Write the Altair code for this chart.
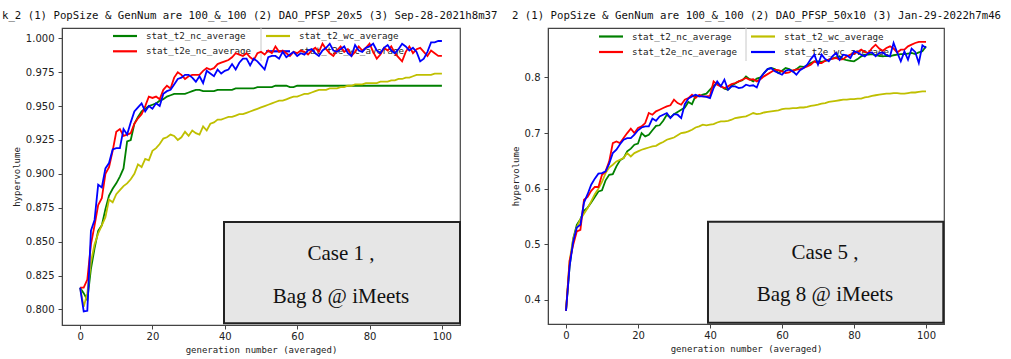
import altair as alt
import pandas as pd

gens = list(range(101))
series_names = ["stat_t2_nc_average", "stat_t2_wc_average", "stat_t2e_nc_average", "stat_t2e_wc_average"]
series_colors = ["#008000", "#bfbf00", "#ff0000", "#0000ff"]

panel_titles = [
    "k_2 (1) PopSize & GenNum are 100_&_100 (2) DAO_PFSP_20x5 (3) Sep-28-2021h8m37",
    "2 (1) PopSize & GenNum are 100_&_100 (2) DAO_PFSP_50x10 (3) Jan-29-2022h7m46",
]
case_labels = ["Case 1 ,", "Case 5 ,"]
bag_label = "Bag 8 @ iMeets"
x_ticks = [0, 20, 40, 60, 80, 100]
y_ticks_1 = [0.800, 0.825, 0.850, 0.875, 0.900, 0.925, 0.950, 0.975, 1.000]
y_ticks_5 = [0.4, 0.5, 0.6, 0.7, 0.8]

# ---------------- Case 1 (DAO_PFSP_20x5) ----------------
c1_t2_nc = [
    0.816, 0.812, 0.807, 0.830, 0.845, 0.858, 0.862, 0.874, 0.884, 0.889,
    0.893, 0.898, 0.904, 0.924, 0.925, 0.937, 0.942, 0.946, 0.948, 0.950,
    0.951, 0.952, 0.954, 0.955, 0.957, 0.958, 0.959, 0.959, 0.959, 0.959,
    0.960, 0.961, 0.962, 0.962, 0.961, 0.961, 0.961, 0.961, 0.962, 0.962,
    0.962, 0.962, 0.962, 0.963, 0.963, 0.963, 0.963, 0.963, 0.963, 0.964,
    0.964, 0.964, 0.964, 0.964, 0.965, 0.965, 0.965, 0.965, 0.964, 0.964,
    0.965, 0.965, 0.965, 0.965, 0.965, 0.965, 0.965, 0.965, 0.965, 0.965,
    0.965, 0.965, 0.965, 0.965, 0.965, 0.965, 0.965, 0.965, 0.965, 0.965,
    0.965, 0.965, 0.965, 0.965, 0.965, 0.965, 0.965, 0.965, 0.965, 0.965,
    0.965, 0.965, 0.965, 0.965, 0.965, 0.965, 0.965, 0.965, 0.965, 0.965, 0.965,
]
c1_t2_wc = [
    0.816, 0.802, 0.812, 0.835, 0.848, 0.856, 0.862, 0.868, 0.881, 0.879,
    0.885, 0.888, 0.891, 0.893, 0.896, 0.900, 0.907, 0.905, 0.911, 0.910,
    0.917, 0.919, 0.922, 0.926, 0.927, 0.929, 0.928, 0.925, 0.927, 0.931,
    0.928, 0.932, 0.930, 0.929, 0.935, 0.932, 0.937, 0.938, 0.940, 0.940,
    0.941, 0.942, 0.942, 0.943, 0.944, 0.944, 0.945, 0.946, 0.947, 0.948,
    0.949, 0.950, 0.951, 0.952, 0.953, 0.954, 0.954, 0.955, 0.956, 0.957,
    0.957, 0.958, 0.959, 0.959, 0.960, 0.961, 0.962, 0.962, 0.962, 0.963,
    0.963, 0.963, 0.964, 0.964, 0.965, 0.965, 0.966, 0.966, 0.966, 0.967,
    0.967, 0.967, 0.967, 0.968, 0.968, 0.968, 0.969, 0.969, 0.970, 0.970,
    0.971, 0.971, 0.972, 0.973, 0.973, 0.973, 0.973, 0.973, 0.974, 0.974, 0.974,
]
c1_t2e_nc = [
    0.816, 0.816, 0.822, 0.848, 0.862, 0.877, 0.882, 0.900, 0.905, 0.917,
    0.931, 0.933, 0.928, 0.929, 0.930, 0.937, 0.941, 0.944, 0.950, 0.957,
    0.956, 0.957, 0.955, 0.962, 0.965, 0.963, 0.971, 0.975, 0.973, 0.970,
    0.972, 0.973, 0.973, 0.973, 0.976, 0.978, 0.977, 0.978, 0.981, 0.982,
    0.983, 0.984, 0.986, 0.989, 0.988, 0.987, 0.989, 0.986, 0.984, 0.989,
    0.990, 0.988, 0.991, 0.989, 0.994, 0.990, 0.991, 0.989, 0.987, 0.990,
    0.989, 0.991, 0.990, 0.988, 0.991, 0.993, 0.990, 0.996, 0.992, 0.989,
    0.987, 0.991, 0.994, 0.990, 0.992, 0.987, 0.990, 0.994, 0.991, 0.993,
    0.996, 0.990, 0.985, 0.988, 0.993, 0.991, 0.994, 0.989, 0.986, 0.983,
    0.990, 0.994, 0.989, 0.992, 0.993, 0.990, 0.987, 0.991, 0.989, 0.987, 0.987,
]
c1_t2e_wc = [
    0.816, 0.7985, 0.799, 0.858, 0.866, 0.892, 0.890, 0.904, 0.908, 0.918,
    0.919, 0.919, 0.933, 0.929, 0.938, 0.946, 0.949, 0.952, 0.946, 0.950,
    0.948, 0.952, 0.950, 0.959, 0.961, 0.962, 0.966, 0.970, 0.971, 0.973,
    0.973, 0.971, 0.968, 0.972, 0.967, 0.976, 0.974, 0.972, 0.977, 0.974,
    0.976, 0.977, 0.981, 0.977, 0.982, 0.985, 0.985, 0.980, 0.985, 0.983,
    0.980, 0.977, 0.986, 0.987, 0.987, 0.985, 0.990, 0.986, 0.988, 0.990,
    0.987, 0.989, 0.988, 0.991, 0.992, 0.989, 0.987, 0.991, 0.993, 0.996,
    0.991, 0.990, 0.992, 0.994, 0.989, 0.987, 0.995, 0.991, 0.990, 0.993,
    0.994, 0.996, 0.991, 0.989, 0.993, 0.995, 0.991, 0.989, 0.992, 0.996,
    0.994, 0.991, 0.993, 0.990, 0.983, 0.985, 0.990, 0.997, 0.997, 0.998, 0.998,
]

# ---------------- Case 5 (DAO_PFSP_50x10) ----------------
c5_t2_nc = [
    0.380, 0.460, 0.510, 0.535, 0.545, 0.560, 0.566, 0.575, 0.585, 0.595,
    0.597, 0.615, 0.625, 0.626, 0.640, 0.651, 0.655, 0.667, 0.672, 0.679,
    0.681, 0.700, 0.694, 0.697, 0.705, 0.713, 0.714, 0.722, 0.733, 0.728,
    0.734, 0.738, 0.742, 0.746, 0.756, 0.752, 0.767, 0.766, 0.769, 0.771,
    0.778, 0.785, 0.789, 0.785, 0.780, 0.778, 0.785, 0.789, 0.793, 0.795,
    0.802, 0.797, 0.793, 0.798, 0.800, 0.808, 0.815, 0.817, 0.815, 0.808,
    0.812, 0.817, 0.815, 0.811, 0.815, 0.820, 0.819, 0.821, 0.826, 0.829,
    0.829, 0.828, 0.830, 0.832, 0.834, 0.836, 0.838, 0.833, 0.831, 0.830,
    0.829, 0.833, 0.838, 0.841, 0.841, 0.842, 0.840, 0.839, 0.838, 0.839,
    0.838, 0.840, 0.841, 0.842, 0.842, 0.843, 0.844, 0.842, 0.845, 0.847, 0.856,
]
c5_t2_wc = [
    0.380, 0.470, 0.510, 0.530, 0.545, 0.555, 0.565, 0.577, 0.590, 0.600,
    0.612, 0.628, 0.638, 0.643, 0.649, 0.652, 0.655, 0.664, 0.658, 0.664,
    0.667, 0.670, 0.672, 0.674, 0.676, 0.677, 0.681, 0.684, 0.688, 0.690,
    0.692, 0.696, 0.700, 0.701, 0.703, 0.706, 0.710, 0.712, 0.715, 0.714,
    0.715, 0.716, 0.719, 0.721, 0.721, 0.722, 0.724, 0.727, 0.728, 0.729,
    0.730, 0.733, 0.736, 0.734, 0.735, 0.737, 0.738, 0.739, 0.740, 0.741,
    0.743, 0.744, 0.744, 0.745, 0.745, 0.746, 0.746, 0.747, 0.749, 0.750,
    0.751, 0.753, 0.754, 0.756, 0.757, 0.758, 0.759, 0.760, 0.760, 0.761,
    0.761, 0.762, 0.762, 0.764, 0.765, 0.767, 0.768, 0.769, 0.770, 0.771,
    0.771, 0.772, 0.772, 0.771, 0.771, 0.772, 0.773, 0.773, 0.774, 0.775, 0.775,
]
c5_t2e_nc = [
    0.380, 0.470, 0.499, 0.523, 0.526, 0.580, 0.585, 0.596, 0.603, 0.603,
    0.625, 0.631, 0.649, 0.682, 0.685, 0.682, 0.691, 0.700, 0.708, 0.700,
    0.709, 0.712, 0.718, 0.736, 0.733, 0.739, 0.742, 0.745, 0.748, 0.750,
    0.760, 0.754, 0.751, 0.760, 0.763, 0.769, 0.763, 0.769, 0.766, 0.766,
    0.767, 0.793, 0.787, 0.784, 0.781, 0.784, 0.788, 0.790, 0.793, 0.796,
    0.799, 0.796, 0.797, 0.793, 0.797, 0.802, 0.806, 0.810, 0.814, 0.813,
    0.811, 0.808, 0.809, 0.813, 0.814, 0.815, 0.817, 0.820, 0.823, 0.829,
    0.826, 0.826, 0.830, 0.832, 0.834, 0.835, 0.832, 0.833, 0.838, 0.841,
    0.843, 0.846, 0.850, 0.846, 0.844, 0.853, 0.859, 0.852, 0.848, 0.853,
    0.856, 0.852, 0.845, 0.850, 0.850, 0.856, 0.859, 0.862, 0.864, 0.864, 0.864,
]
c5_t2e_wc = [
    0.380, 0.460, 0.505, 0.530, 0.535, 0.575, 0.590, 0.607, 0.618, 0.627,
    0.628, 0.631, 0.645, 0.664, 0.670, 0.680, 0.688, 0.691, 0.691, 0.697,
    0.705, 0.710, 0.712, 0.712, 0.726, 0.722, 0.730, 0.733, 0.736, 0.727,
    0.734, 0.733, 0.727, 0.752, 0.762, 0.766, 0.769, 0.766, 0.766, 0.765,
    0.763, 0.781, 0.793, 0.784, 0.796, 0.778, 0.784, 0.784, 0.781, 0.782,
    0.787, 0.785, 0.786, 0.782, 0.799, 0.808, 0.815, 0.817, 0.811, 0.808,
    0.805, 0.812, 0.814, 0.811, 0.805, 0.813, 0.817, 0.823, 0.833, 0.841,
    0.823, 0.841, 0.833, 0.829, 0.838, 0.844, 0.832, 0.841, 0.840, 0.835,
    0.847, 0.845, 0.841, 0.838, 0.844, 0.845, 0.838, 0.844, 0.845, 0.840,
    0.838, 0.862, 0.845, 0.829, 0.847, 0.832, 0.852, 0.846, 0.826, 0.858, 0.853,
]


def long_df(cols):
    rows = []
    for name, vals in zip(series_names, cols):
        for g, v in zip(gens, vals):
            rows.append({"gen": g, "hv": v, "series": name})
    return pd.DataFrame(rows)


ONE = pd.DataFrame({"s": [0]})


def legend_layers(col_x, row_y):
    layers = []
    for i, (name, col) in enumerate(zip(series_names, series_colors)):
        lx = col_x[i % 2]
        ly = row_y[i // 2]
        layers.append(
            alt.Chart(ONE).mark_rule(color=col, strokeWidth=2.2).encode(
                x=alt.value(lx), x2=alt.value(lx + 24), y=alt.value(ly)
            )
        )
        layers.append(
            alt.Chart(pd.DataFrame({"t": [name]})).mark_text(
                font="DejaVu Sans Mono", fontSize=9.2, color="#222", align="left", baseline="middle"
            ).encode(text="t:N", x=alt.value(lx + 33), y=alt.value(ly))
        )
    return layers


def panel(df, ydomain, yticks, yfmt, w, h, title_text, case_text, box, col_x, row_y):
    lines = alt.Chart(df).mark_line(strokeWidth=1.8).encode(
        x=alt.X("gen:Q", scale=alt.Scale(domain=[-5, 105], nice=False, zero=False),
                axis=alt.Axis(values=x_ticks, title="generation number (averaged)",
                              labelPadding=2, titlePadding=4)),
        y=alt.Y("hv:Q", scale=alt.Scale(domain=ydomain, nice=False, zero=False),
                axis=alt.Axis(values=yticks, format=yfmt, title="hypervolume",
                              labelPadding=4, titlePadding=4)),
        color=alt.Color("series:N", scale=alt.Scale(domain=series_names, range=series_colors),
                        legend=None),
    )
    divider = alt.Chart(ONE).mark_rule(color="#c8c8c8", strokeWidth=1).encode(
        x=alt.value(col_x[1] - 5), y=alt.value(0), y2=alt.value(33)
    )
    bx0, bx1, by0, by1, tx, ty1, ty2 = box
    rect = alt.Chart(ONE).mark_rect(
        fill="#e6e6e6", stroke="#222", strokeWidth=2
    ).encode(x=alt.value(bx0), x2=alt.value(bx1), y=alt.value(by0), y2=alt.value(by1))
    t1 = alt.Chart(pd.DataFrame({"t": [case_text]})).mark_text(
        font="Liberation Serif", fontSize=21, color="#111", align="center", baseline="middle"
    ).encode(text="t:N", x=alt.value(tx), y=alt.value(ty1))
    t2 = alt.Chart(pd.DataFrame({"t": [bag_label]})).mark_text(
        font="Liberation Serif", fontSize=21, color="#111", align="center", baseline="middle"
    ).encode(text="t:N", x=alt.value(tx), y=alt.value(ty2))
    title = alt.Chart(pd.DataFrame({"t": [title_text[0]]})).mark_text(
        font="DejaVu Sans Mono", fontSize=10.7, color="#111", align="left", baseline="middle"
    ).encode(text="t:N", x=alt.value(title_text[1]), y=alt.value(-12))
    layers = legend_layers(col_x, row_y) + [divider, lines, rect, t1, t2, title]
    return alt.layer(*layers).properties(width=w, height=h)


left = panel(
    long_df([c1_t2_nc, c1_t2_wc, c1_t2e_nc, c1_t2e_wc]),
    [0.7885, 1.0076], y_ticks_1, ".3f", 398, 297,
    (panel_titles[0], -60), case_labels[0],
    (162, 398, 194, 295.3, 279, 226, 268.7),
    (51, 204), (8, 23.3),
)
right = panel(
    long_df([c5_t2_nc, c5_t2_wc, c5_t2e_nc, c5_t2e_wc]),
    [0.3565, 0.889], y_ticks_5, ".1f", 396, 296,
    (panel_titles[1], -36), case_labels[1],
    (160, 395.3, 193.7, 294.7, 277, 224.7, 267),
    (51, 203), (8.5, 24),
)

chart = alt.hconcat(left, right, spacing=88, bounds="flush").resolve_scale(
    color="independent", y="independent"
).properties(
    padding={"left": 1, "top": 9, "right": 0, "bottom": 0}, background="white"
).configure_view(
    stroke="#444", strokeWidth=1.2
).configure_axis(
    grid=False, domainColor="#444", tickColor="#444", tickSize=4,
    labelFont="DejaVu Sans", labelFontSize=10, labelColor="#222",
    titleFont="DejaVu Sans Mono", titleFontSize=9, titleFontWeight="normal", titleColor="#222",
)

chart.save("out.html", embed_options={"renderer": "svg", "actions": False})
